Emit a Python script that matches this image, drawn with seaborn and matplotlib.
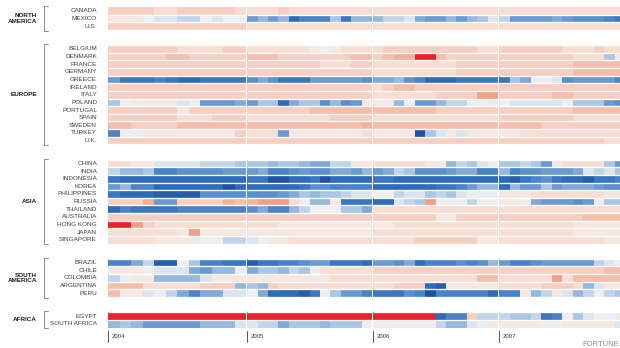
import numpy as np
import pandas as pd
import matplotlib
matplotlib.use("Agg")
import matplotlib.pyplot as plt
import seaborn as sns
from matplotlib.colors import LinearSegmentedColormap
from matplotlib.lines import Line2D
from matplotlib.transforms import blended_transform_factory

# ---------------- data (monthly values, Jan 2004 .. Dec 2007) ----------------
YEARS = ["2004", "2005", "2006", "2007"]
MONTHS = ["Jan", "Feb", "Mar", "Apr", "May", "Jun", "Jul", "Aug", "Sep", "Oct", "Nov", "Dec"]

GROUP_NAMES = ["NORTH\nAMERICA", "EUROPE", "ASIA", "SOUTH\nAMERICA", "AFRICA"]
NORTH_AMERICA = ["CANADA", "MEXICO", "U.S."]
EUROPE = ["BELGIUM", "DENMARK", "FRANCE", "GERMANY", "GREECE", "IRELAND", "ITALY",
          "POLAND", "PORTUGAL", "SPAIN", "SWEDEN", "TURKEY", "U.K."]
ASIA = ["CHINA", "INDIA", "INDONESIA", "KOREA", "PHILIPPINES", "RUSSIA", "THAILAND",
        "AUSTRALIA", "HONG KONG", "JAPAN", "SINGAPORE"]
SOUTH_AMERICA = ["BRAZIL", "CHILE", "COLOMBIA", "ARGENTINA", "PERU"]
AFRICA = ["EGYPT", "SOUTH AFRICA"]

CANADA = ([1.5, 1.5, 1.5, 1.5, 1, 1, 1.5, 1.5, 1.5, 1.5, 1.5, 1]
          + [1, 1, 1, 1.5, 1, 1, 1, 1, 1, 1, 1, 1]
          + [1, 1, 1, 1, 1, 1, 1, 1, 1, 1, 1, 1]
          + [1, 1, 1, 1, 1, 1, 1, 1, 1, 1, 1, 1])
MEXICO = ([0.5, 0.5, 0.5, 0, -0.5, -0.5, -1, -1, 0, -0.5, 0, 0]
          + [-3, -2, -3, -2, -5, -4, -4, -4, -1.5, -4.5, -2, -2]
          + [-2, -1, -1, -0.5, -2.5, -3, -3, -2, -3, -2, -1.5, -0.5]
          + [-1, -3, -3, -3, -3, -2.5, -3, -3.5, -3.5, -3.5, -4, -4.5])
US = ([1.5, 1.5, 1.5, 1.5, 1.5, 1.5, 1.5, 1.5, 1.5, 1.5, 1.5, 1.5]
      + [1, 1, 1, 1, 1, 1, 1, 1, 1, 1, 1, 1]
      + [1, 1, 1, 1, 1, 1, 1, 1, 1, 1, 1, 1]
      + [1, 1, 1, 1, 1, 1, 1, 1, 1, 1, 1, 1])
BELGIUM = ([1.5, 1.5, 1.5, 1.5, 1.5, 1.5, 1, 1, 1, 1, 1.5, 1.5]
           + [1, 1, 1, 1, 1, 1, 0.5, 0, 0.5, 1, 1, 1]
           + [1, 1.5, 1.5, 1.5, 1.5, 1.5, 1.5, 1.5, 1.5, 1.5, 1, 1]
           + [1.5, 1.5, 1.5, 1.5, 1.5, 1.5, 1, 1, 1, 1.5, 1, 1])
DENMARK = ([1.5, 1.5, 1.5, 1.5, 1.5, 2, 2, 1.5, 1.5, 1.5, 1.5, 1.5]
           + [2, 2, 2, 1.5, 1.5, 1.5, 1.5, 1.5, 1.5, 1.5, 2, 2]
           + [1.5, 2, 2.5, 2.5, 5, 5, 2, 1.5, 1.5, 1.5, 1.5, 1.5]
           + [1.5, 1.5, 1.5, 1.5, 1.5, 1.5, 1.5, 1, 1, 1, -1.5, 0.5])
FRANCE = ([1.5, 1.5, 1.5, 1.5, 1.5, 1.5, 1.5, 1.5, 1.5, 1.5, 1.5, 1.5]
          + [1.5, 1.5, 1.5, 1.5, 1.5, 1.5, 1.5, 1, 1, 1, 1.5, 1.5]
          + [1, 1, 1, 1, 1, 1, 1, 1, 1.5, 1.5, 1.5, 1.5]
          + [1.5, 1.5, 1.5, 1.5, 1.5, 1.5, 1.5, 2, 2, 2, 2, 2])
GERMANY = ([1.5, 1.5, 1.5, 1.5, 1.5, 1.5, 1.5, 1.5, 1.5, 1.5, 1.5, 1.5]
           + [1.5, 1.5, 1.5, 1.5, 1.5, 1.5, 1.5, 1.5, 1.5, 1.5, 1.5, 1.5]
           + [1, 1, 1, 1, 1, 1, 1, 1, 1.5, 1.5, 1.5, 1.5]
           + [1.5, 1.5, 1.5, 1.5, 1.5, 1.5, 1.5, 2, 2, 2, 2, 2])
GREECE = ([-3, -4.5, -4.5, -4.5, -4, -4.5, -5, -5, -4.5, -4.5, -4.5, -4.5]
          + [-3.5, -2.5, -3.5, -4.5, -4.5, -4.5, -3, -3, -3, -3, -3, -3.5]
          + [-2.5, -2.5, -2, -3.5, -4, -5, -5, -5, -4.5, -4.5, -4.5, -4.5]
          + [-4.5, -1.5, -2.5, 0, 0, -0.5, -3.5, -3, -3, -3, -3, -4])
IRELAND = ([1.5, 1.5, 1.5, 1.5, 1.5, 1.5, 1.5, 1.5, 1.5, 1.5, 1.5, 1.5]
           + [1.5, 1.5, 1.5, 1.5, 1.5, 1.5, 1.5, 1.5, 1.5, 1.5, 1.5, 1.5]
           + [1, 1.5, 2, 2, 1.5, 1.5, 1.5, 1.5, 1.5, 1.5, 1.5, 1.5]
           + [1.5, 1.5, 1.5, 1.5, 1.5, 1.5, 1.5, 1.5, 1.5, 1.5, 1.5, 1.5])
ITALY = ([1.5, 1.5, 1.5, 1.5, 1.5, 1.5, 1.5, 1.5, 1.5, 1.5, 1.5, 1.5]
         + [1.5, 1.5, 1.5, 1.5, 1.5, 1.5, 1.5, 1.5, 1.5, 1.5, 1.5, 1.5]
         + [1, 1, 1, 1, 1, 1, 1.5, 1.5, 1.5, 1.5, 3, 3]
         + [1.5, 1.5, 1.5, 1.5, 1.5, 2, 2, 1.5, 1.5, 1.5, 1.5, 1.5])
POLAND = ([-1.5, 0, 0.5, 0.5, 0.5, 0.5, -0.5, 0, -3, -3, -3, -2.5]
          + [-3, -1.5, -1.5, -5, -2.5, -1.5, -1.5, -3.5, -2, -3.5, -3, 0.5]
          + [0.5, 0.5, -2, 0, -3, -3, -2, -1, -1, 0, 0, 0.5]
          + [0, -0.5, -0.5, -0.5, -0.5, -0.5, 0, -1.5, -1.5, -1.5, -3, -3.5])
PORTUGAL = ([1.5, 1.5, 1.5, 1.5, 1.5, 1.5, 0.5, 1.5, 1.5, 1.5, 1.5, 1.5]
            + [1.5, 1.5, 1.5, 1.5, 1.5, 1.5, 2, 2, 2, 2, 2, 2]
            + [2, 2, 2, 2, 2, 2, 1.5, 1.5, 1.5, 1.5, 1.5, 1.5]
            + [1.5, 1.5, 1.5, 1.5, 1.5, 1.5, 1.5, 2, 2, 2, 2, 2])
SPAIN = ([1.5, 1.5, 1.5, 1.5, 1.5, 1.5, 1, 1, 1, 1.5, 1.5, 1.5]
         + [1, 1, 1, 1, 1, 1, 1, 1, 1.5, 1.5, 1.5, 1.5]
         + [1, 1, 1, 1, 1, 1, 1, 1, 1, 1, 1, 1]
         + [1.5, 1.5, 1.5, 1.5, 1.5, 1.5, 1.5, 1, 1, 1, 1, 1])
SWEDEN = ([2, 2, 1.5, 1.5, 1.5, 1.5, 2, 2, 2, 2, 2, 2]
          + [2, 2, 2, 2, 2, 2, 2, 2, 2, 2, 2, 2.5]
          + [2, 2, 2, 2, 2, 2, 2, 2, 2, 2, 2, 2]
          + [2, 2, 2, 2, 1.5, 1.5, 1.5, 1.5, 1.5, 1.5, 1.5, 1.5])
TURKEY = ([-4, 0, 0, 0.5, 0.5, 0.5, 0.5, 0.5, 0.5, 0.5, 0.5, 1.5]
          + [1, 1, 1, -3, 0.5, 0.5, 0.5, 0.5, 0.5, 0.5, 0.5, 1]
          + [0.5, 0.5, 0.5, 0.5, -6, -1.5, -0.5, 0.5, -0.5, 0.5, 0.5, 0.5]
          + [0.5, 0.5, 1, 1, 1, 1, 1, 1, 1, 1, 1, 1])
UK = ([1.5, 1.5, 1.5, 1.5, 1.5, 1.5, 1.5, 1.5, 1.5, 1.5, 1.5, 1.5]
      + [1.5, 1.5, 1.5, 1.5, 1.5, 1.5, 1.5, 1.5, 1.5, 1.5, 1.5, 1.5]
      + [1.5, 1.5, 1.5, 1.5, 1.5, 1.5, 1.5, 1.5, 1.5, 1.5, 1.5, 1.5]
      + [1.5, 1.5, 1.5, 1.5, 1.5, 1.5, 1.5, 1.5, 1.5, 1.5, 1, 1])
CHINA = ([1, 1, 0.5, 0.5, -0.5, -0.5, -0.5, -0.5, -1, -1, -1, -1.5]
         + [-1.5, -1.5, -2, -1.5, -1.5, -2, -2.5, -2.5, -1, -1, 0.5, 0.5]
         + [1, 1, 1, 1, 1, 0.5, 0.5, -2, -1, -1.5, -0.5, 0]
         + [-1.5, -1.5, -1, -1.5, -3, 0.5, 1, 1, 1, 1, -1.5, -3])
INDIA = ([-1, -2, -2, -1.5, -4, -4, -3.5, -3.5, -3.5, -3.5, -3, -3]
         + [-3, -2.5, -4, -4, -3.5, -3, -3.5, -3.5, -2.5, -2.5, -3, -2]
         + [-3, -2.5, -1, -1.5, -3.5, -3.5, -3.5, -3, -2.5, -2.5, -4, -4]
         + [-2, -4, -3.5, -3.5, -3, -3, -3, -2.5, -0.5, -1, -0.5, -1.5])
INDONESIA = ([-4.5, -5, -5, -5, -5, -5, -5, -5, -5, -5, -5, -5]
             + [-4.5, -4.5, -6, -6, -5, -5, -4.5, -6, -5, -5, -5, -5]
             + [-4.5, -4.5, -5, -5, -5, -5, -5, -5, -5, -5, -5, -5]
             + [-5, -5.5, -4.5, -4, -3.5, -4.5, -5, -5, -5.5, -4.5, -4.5, -4])
KOREA = ([-3, -2, -4, -4, -5, -5, -5, -5, -5, -5, -6, -5]
         + [-5, -5, -5, -5, -5, -4.5, -3.5, -3.5, -4, -4, -4, -4]
         + [-5, -5, -5, -5, -5, -5, -4.5, -4.5, -4, -3, -2, -2]
         + [-5, -2, -3, -3, -1.5, -3, -2.5, -2.5, -2.5, -3, -3.5, -3.5])
PHILIPPINES = ([-4.5, -5, -5, -5, -5.5, -5.5, -5.5, -5.5, -3.5, -3.5, -3.5, -3.5]
               + [-3.5, -3.5, -3.5, -3, -2.5, -1.5, -2, -1.5, -1.5, -1, -0.5, -0.5]
               + [0, 0, -1, -0.5, -0.5, -1.5, -1, -1.5, -0.5, 0, 0, 0]
               + [0.5, 0.5, 0.5, 1, 1, 1, 1, 1, 1, 1, 0.5, 0.5])
RUSSIA = ([1.5, 1.5, 1.5, 2.5, -3, -3, 1.5, 1.5, 1.5, 1.5, 2.5, 2]
          + [2.5, 3, 3, 3, 1, 0, -2, -2, 0.5, -4.5, -4.5, -4.5]
          + [-5, -5, -0.5, -1, -1.5, 3, 0, 0, 0, -1, 0, 0]
          + [0.5, 0.5, 0, -2.5, -3, -3, -3, -3.5, -3, 0, -1.5, -1.5])
THAILAND = ([-5, -4, -4.5, -4.5, -4.5, -4.5, -4, -4, -4, -4, -4, -4]
            + [-3.5, -2.5, -4, -4, -2, -1, 0, 0, 0, -1.5, -1.5, -2.5]
            + [1, 1, 1, 1, 1, 1, 1, 1, 1, 1, 1, 1]
            + [1, 1, 1, 1, 1, 1, 1, 1, 1, 1, 1, 1])
AUSTRALIA = ([1.5, 1.5, 1.5, 1.5, 1.5, 1.5, 1.5, 1.5, 1.5, 1.5, 1.5, 1.5]
             + [1.5, 1.5, 1.5, 1.5, 1.5, 1.5, 1.5, 1.5, 1.5, 1.5, 1.5, 1.5]
             + [1.5, 1.5, 1.5, 1.5, 1.5, 1.5, 0.5, 0.5, 1.5, 1.5, 1.5, 1.5]
             + [1.5, 1.5, 1.5, 1.5, 1.5, 1.5, 1.5, 1.5, 2, 2, 2, 2])
HONG_KONG = ([5, 5, 3, 1.5, 1, 1, 1, 1, 1, 1, 1, 1]
             + [1, 1, 1, 0.5, 0.5, 0.5, 0.5, 0.5, 0.5, 0.5, 0.5, 0.5]
             + [0.5, 0.5, 1, 1, 1, 1, 1, 1, 1, 1, 1, 1]
             + [1, 1, 1, 1, 1, 1, 1, 0.5, 0.5, 0.5, 0.5, 0.5])
JAPAN = ([1, 1, 1, 1, 1, 1, 0.5, 3, 0.5, 0.5, 0.5, 0.5]
         + [0.5, 0.5, 0.5, 0.5, 0.5, 0.5, 0.5, 0.5, 0.5, 0.5, 0.5, 0.5]
         + [1, 1, 1, 1, 1, 1, 1, 1, 1, 1, 1, 1]
         + [1, 1, 1, 1, 1, 1, 1, 0.5, 0.5, 0.5, 0.5, 0.5])
SINGAPORE = ([1, 1, 1, 1, 0.5, 0.5, 0.5, 0.5, 0, 0, -1, -1]
             + [-0.5, 0, 0.5, 0.5, 1, 1, 1, 1, 1, 1, 1, 1]
             + [1, 1, 1, 1, 1.5, 1.5, 1.5, 1.5, 1.5, 1.5, 0.5, 0.5]
             + [1, 1, 1, 1, 1, 1, 1, 1, 1, 1, 0.5, 0.5])
BRAZIL = ([-4, -4, -2.5, -1, -5.5, -5.5, 0, -1.5, -4, -4, -4.5, -4.5]
          + [-5.5, -4.5, -4.5, -4, -4, -3.5, -3, -3, -4.5, -4.5, -4.5, -5]
          + [-3, -3, -3.5, -2.5, -5, -4, -4, -4, -3.5, -4, -3.5, -2]
          + [-3, -4, -4, -3.5, -3, -3, -3, -3, -3, -1, -0.5, 0])
CHILE = ([0.5, 0.5, 0.5, 0, -0.5, -0.5, -0.5, -2.5, -3, -2, -2, 0]
         + [-2.5, -1.5, -1.5, -2, -1, -1.5, 0, 1, 1, 1, 1, 1]
         + [1.5, 1.5, 1.5, 1.5, 1.5, 1.5, 1.5, 1.5, 1.5, 1.5, 1.5, 1.5]
         + [1.5, 1.5, 1.5, 1.5, 1.5, 1.5, 1.5, 1.5, 1.5, 1.5, 2, 2])
COLOMBIA = ([-1, 0, 0.5, 0.5, -2, -2, -2, -2, -0.5, 0.5, 0.5, 0.5]
            + [0.5, 0.5, 0.5, 0.5, 0.5, 0.5, 0.5, 0.5, 1, 1, 1, 1]
            + [1, 1, 1, 1, 1, 1, 1, 1, 1, 1, 2, 2]
            + [1, 1, 1, 1, 1, 3, 1, 2, 2, 2, 2, 2])
ARGENTINA = ([2, 2, 2, 1, 1, 1, 1, 1, 1.5, 1.5, 1.5, -2]
             + [-1.5, -2, 1.5, 1, 1, 1, 1, 1, 1, 1, 1, 1]
             + [1, 1, 1.5, 1.5, 1.5, -5, -5.5, 0.5, 0.5, 0.5, 0.5, 0.5]
             + [1, 1, 1, 1, 1.5, 1.5, 1.5, 1, -2, -0.5, 0.5, 0.5])
PERU = ([2, 0.5, 0.5, -0.5, 0, -1, -2.5, -4, -2.5, -2.5, -0.5, -0.5]
        + [0, -2.5, -5, -5, -5, -5.5, -4.5, 0, -1.5, -3, -3, -4]
        + [-4.5, -4.5, -4.5, -3.5, -4, -6, -4, -4, -4, -4, -4, -5]
        + [-4, -4, 0.5, -2, -1, 0.5, -0.5, -2, -1, 0, -1, -1.5])
EGYPT = ([5, 5, 5, 5, 5, 5, 5, 5, 5, 5, 5, 5]
         + [5, 5, 5, 5, 5, 5, 5, 5, 5, 5, 5, 5]
         + [5, 5, 5, 5, 5, 5, -5, -4, -4, 1.5, -1, -1]
         + [-1, -1.5, -1.5, -1, -4.5, -4, 0, -1.5, -0.5, 0, 0, 0.5])
SOUTH_AFRICA = ([-2, -1.5, -2, -3, -3, -3, -3, -3, -2, -2, -2, -0.5]
                + [-0.5, -1, -1, -2.5, -1.5, -1.5, -1.5, -2, -1.5, -1.5, -1.5, 0]
                + [0, 0, 0, 0, 0, 0, -1, -2, -2, -0.5, 0, 0.5]
                + [0.5, 0.5, 0.5, 0.5, 0, 0, 0.5, 0.5, 0.5, 0.5, 0.5, -0.5])

SERIES = {
    "CANADA": CANADA, "MEXICO": MEXICO, "U.S.": US,
    "BELGIUM": BELGIUM, "DENMARK": DENMARK, "FRANCE": FRANCE, "GERMANY": GERMANY,
    "GREECE": GREECE, "IRELAND": IRELAND, "ITALY": ITALY, "POLAND": POLAND,
    "PORTUGAL": PORTUGAL, "SPAIN": SPAIN, "SWEDEN": SWEDEN, "TURKEY": TURKEY, "U.K.": UK,
    "CHINA": CHINA, "INDIA": INDIA, "INDONESIA": INDONESIA, "KOREA": KOREA,
    "PHILIPPINES": PHILIPPINES, "RUSSIA": RUSSIA, "THAILAND": THAILAND,
    "AUSTRALIA": AUSTRALIA, "HONG KONG": HONG_KONG, "JAPAN": JAPAN, "SINGAPORE": SINGAPORE,
    "BRAZIL": BRAZIL, "CHILE": CHILE, "COLOMBIA": COLOMBIA, "ARGENTINA": ARGENTINA,
    "PERU": PERU, "EGYPT": EGYPT, "SOUTH AFRICA": SOUTH_AFRICA,
}
GROUPS = [NORTH_AMERICA, EUROPE, ASIA, SOUTH_AMERICA, AFRICA]

# ---------------- build the grid (blank rows between groups) ----------------
GAP_ROWS = 2
n_cols = len(YEARS) * len(MONTHS)
rows, row_labels, spans = [], [], []
for gi, names in enumerate(GROUPS):
    if gi > 0:
        for _ in range(GAP_ROWS):
            rows.append([np.nan] * n_cols)
            row_labels.append("")
    start = len(rows)
    for name in names:
        rows.append(SERIES[name])
        row_labels.append(name)
    spans.append((start, len(rows)))
columns = [f"{m} {y}" for y in YEARS for m in MONTHS]
grid = pd.DataFrame(rows, columns=columns)
n_rows = len(rows)

# ---------------- style ----------------
sns.set_style("white")
plt.rcParams["font.family"] = ["Liberation Sans", "DejaVu Sans"]

VMIN, VMAX = -6, 5
nodes = [(-6, "#1f52a0"), (-5, "#2e6cb8"), (-4, "#4a84c6"), (-3, "#6b9bd2"),
         (-2, "#96b8de"), (-1, "#c2d4ea"), (-0.5, "#dae4ef"), (0, "#eceef1"),
         (0.5, "#f5e7e2"), (1, "#f8ddd3"), (1.5, "#f7cfc2"), (2, "#f5bfac"),
         (3, "#f0a089"), (5, "#e6222a")]
cmap = LinearSegmentedColormap.from_list(
    "risk", [((v - VMIN) / (VMAX - VMIN), c) for v, c in nodes])

W, H = 620, 348
fig = plt.figure(figsize=(W / 100, H / 100), dpi=100)
fig.patch.set_facecolor("white")

TOP, BOTTOM = 7.0, 327.5
year_edges = [(108.0, 246.2), (247.2, 372.0), (373.0, 498.0), (499.0, 625.0)]

axes = []
for k, year in enumerate(YEARS):
    x0, x1 = year_edges[k]
    ax = fig.add_axes([x0 / W, 1 - BOTTOM / H, (x1 - x0) / W, (BOTTOM - TOP) / H])
    sub = grid.iloc[:, 12 * k:12 * (k + 1)]
    sns.heatmap(sub, ax=ax, cmap=cmap, vmin=VMIN, vmax=VMAX, cbar=False,
                xticklabels=False, yticklabels=False, linewidths=0)
    ax.hlines(np.arange(1, n_rows), 0, sub.shape[1], colors="white", linewidth=0.95)
    ax.set_xlabel("")
    ax.set_ylabel("")
    ax.tick_params(length=0)
    for s in ax.spines.values():
        s.set_visible(False)
    axes.append(ax)

ax0 = axes[0]
trans = blended_transform_factory(fig.transFigure, ax0.transData)

# country labels
for i, lab in enumerate(row_labels):
    if lab:
        ax0.text(97 / W, i + 0.5, lab, transform=trans, ha="right", va="center",
                 fontsize=4.6, color="#3d3d3d", clip_on=False)

# region labels and brackets
for gname, (s, e) in zip(GROUP_NAMES, spans):
    ax0.text(37 / W, (s + e) / 2, gname, transform=trans, ha="right", va="center",
             fontsize=4.6, fontweight="bold", color="#222222", linespacing=1.15,
             clip_on=False)
    xs = [48 / W, 43.5 / W, 43.5 / W, 48 / W]
    ys = [s - 0.1, s - 0.1, e + 0.1, e + 0.1]
    fig.add_artist(Line2D(xs, ys, transform=trans, color="#8a8a8a", linewidth=0.7))

# year ticks
for k, year in enumerate(YEARS):
    x0 = year_edges[k][0] if k == 0 else year_edges[k][0] - 0.5
    fig.add_artist(Line2D([x0 / W, x0 / W], [1 - 331 / H, 1 - 341.5 / H],
                          transform=fig.transFigure, color="#555555", linewidth=0.7))
    fig.text((x0 + 4) / W, 1 - 336.5 / H, year, ha="left", va="center",
             fontsize=4.3, color="#333333")

fig.text(619 / W, 1 - 344 / H, "FORTUNE", ha="right", va="center",
         fontsize=5.5, color="#8a8a8a")

fig.savefig("out.png", dpi=100, facecolor="white")
